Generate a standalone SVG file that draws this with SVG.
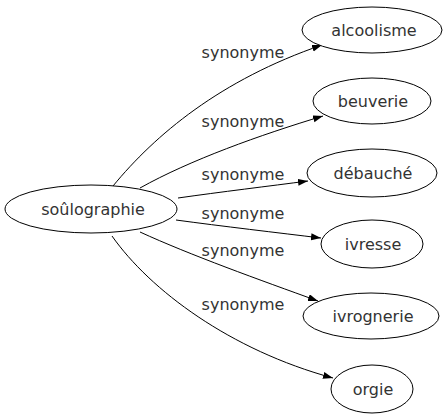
<svg xmlns="http://www.w3.org/2000/svg" width="447" height="419" viewBox="0 0 447 419">
<defs>
<style>
.node ellipse{fill:#fff;stroke:#000;stroke-width:1}
.node text,.lbl{font-family:"DejaVu Sans",sans-serif;font-size:16px;fill:#333;text-anchor:middle}
.edges path{fill:none;stroke:#000;stroke-width:1}
</style>
<marker id="ah" markerUnits="userSpaceOnUse" markerWidth="11" markerHeight="8" refX="10" refY="3.5" orient="auto">
<path d="M0,0 L10,3.5 L0,7 z" fill="#000"/>
</marker>
</defs>
<rect width="447" height="419" fill="#fff"/>
<g class="edges">
<path d="M113,186 C155,135 220,80 322,45" marker-end="url(#ah)"/>
<path d="M140,188 C190,160 260,135 323,116" marker-end="url(#ah)"/>
<path d="M178,198 C220,192 270,186 308,181" marker-end="url(#ah)"/>
<path d="M176,220 C220,226 280,233 321,238" marker-end="url(#ah)"/>
<path d="M140,232 C190,255 260,280 318,301" marker-end="url(#ah)"/>
<path d="M112,236 C150,290 230,350 333,378" marker-end="url(#ah)"/>
<text class="lbl" x="243" y="58">synonyme</text>
<text class="lbl" x="243" y="127">synonyme</text>
<text class="lbl" x="243" y="180">synonyme</text>
<text class="lbl" x="243" y="219">synonyme</text>
<text class="lbl" x="243" y="256">synonyme</text>
<text class="lbl" x="243" y="310">synonyme</text>
</g>
<g id="n0" class="node"><ellipse cx="91" cy="209" rx="86" ry="24"/><text x="93" y="215">soûlographie</text></g>
<g id="n1" class="node"><ellipse cx="372" cy="30" rx="70" ry="23"/><text x="374" y="36">alcoolisme</text></g>
<g id="n2" class="node"><ellipse cx="372" cy="101" rx="59" ry="23"/><text x="373" y="107">beuverie</text></g>
<g id="n3" class="node"><ellipse cx="372" cy="173" rx="65" ry="24"/><text x="373" y="179">débauché</text></g>
<g id="n4" class="node"><ellipse cx="372" cy="244" rx="51" ry="24"/><text x="373" y="250">ivresse</text></g>
<g id="n5" class="node"><ellipse cx="371" cy="316" rx="68" ry="23"/><text x="373" y="322">ivrognerie</text></g>
<g id="n6" class="node"><ellipse cx="372" cy="389" rx="41" ry="24"/><text x="373" y="395">orgie</text></g>
</svg>
